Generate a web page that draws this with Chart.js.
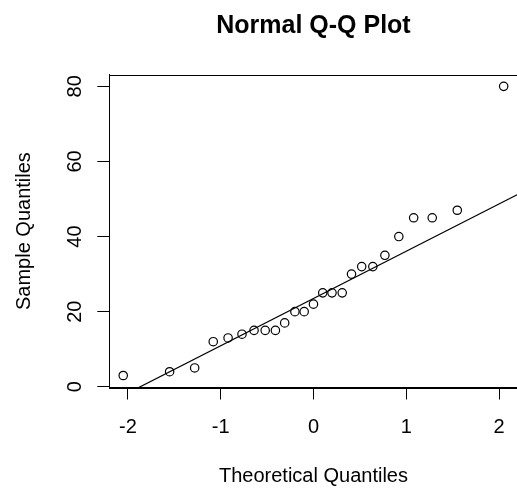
<!DOCTYPE html>
<html>
<head>
<meta charset="utf-8">
<script src="https://cdn.jsdelivr.net/npm/chart.js@4"></script>
<style>
  html, body { margin: 0; padding: 0; background: #fff; overflow: hidden; width: 517px; height: 488px; }
  canvas { display: block; }
</style>
</head>
<body>
<canvas id="c" width="523" height="488" style="width:523px;height:488px"></canvas>
<script>
// Theoretical quantiles (x) and sample quantiles (y)
const theoreticalQ = [-2.05, -1.55, -1.28, -1.08, -0.92, -0.77, -0.64, -0.52, -0.41, -0.31, -0.20, -0.10, 0,
                      0.10, 0.20, 0.31, 0.41, 0.52, 0.64, 0.77, 0.92, 1.08, 1.28, 1.55, 2.05];
const sampleQ = [3, 4, 5, 12, 13, 14, 15, 15, 15, 17, 20, 20, 22,
                 25, 25, 25, 30, 32, 32, 35, 40, 45, 45, 47, 80];
// Reference line (qqline) end points
const lineX = [-2.2, 2.2];
const lineY = [-4.2, 51.2];
// Tick labels
const xTicks = [-2, -1, 0, 1, 2];
const yTicks = [0, 20, 40, 60, 80];

const FONT = '"Liberation Sans", Arial, Helvetica, sans-serif';
Chart.defaults.color = '#000';
Chart.defaults.font.family = FONT;

const framePlugin = {
  id: 'frame',
  afterDatasetsDraw(chart) {
    const a = chart.chartArea, ctx = chart.ctx;
    ctx.save();
    ctx.strokeStyle = '#000';
    ctx.lineWidth = 1;
    ctx.strokeRect(Math.round(a.left) + 0.5, Math.round(a.top) + 0.5,
                   Math.round(a.right - a.left), Math.round(a.bottom - a.top));
    ctx.restore();
  }
};

function noPad(scale) {
  scale.paddingLeft = 0; scale.paddingRight = 0;
  scale.paddingTop = 0; scale.paddingBottom = 0;
}

new Chart(document.getElementById('c'), {
  type: 'scatter',
  data: {
    datasets: [
      {
        type: 'line',
        data: lineX.map((x, i) => ({ x, y: lineY[i] })),
        borderColor: '#000',
        borderWidth: 1.2,
        pointRadius: 0,
        fill: false
      },
      {
        data: theoreticalQ.map((x, i) => ({ x, y: sampleQ[i] })),
        pointStyle: 'circle',
        pointRadius: 4.2,
        pointBorderWidth: 1.2,
        borderColor: '#000',
        backgroundColor: 'rgba(0,0,0,0)',
        pointBackgroundColor: 'rgba(0,0,0,0)',
        pointBorderColor: '#000'
      }
    ]
  },
  options: {
    responsive: false,
    animation: false,
    devicePixelRatio: 1,
    layout: { padding: { left: 0, right: 2, top: 0, bottom: 0 } },
    plugins: {
      legend: { display: false },
      tooltip: { enabled: false },
      title: {
        display: true,
        text: 'Normal Q-Q Plot',
        fullSize: false,
        font: { family: FONT, size: 25, weight: 'bold' },
        color: '#000',
        padding: { top: 11, bottom: 33.7 }
      }
    },
    scales: {
      x: {
        type: 'linear',
        min: -2.2,
        max: 2.2,
        afterBuildTicks(scale) { scale.ticks = xTicks.map(v => ({ value: v })); },
        afterFit(scale) { scale.height = 100.5; noPad(scale); },
        ticks: { font: { family: FONT, size: 20 }, color: '#000', padding: 16, maxRotation: 0, autoSkip: false },
        grid: { display: true, drawOnChartArea: false, drawTicks: true, tickLength: 12, tickColor: '#000', tickWidth: 1 },
        border: { display: true, color: '#000', width: 1 },
        title: { display: true, text: 'Theoretical Quantiles', font: { family: FONT, size: 20 }, color: '#000', padding: { top: 0, bottom: 0 } }
      },
      y: {
        type: 'linear',
        min: -0.2,
        max: 83.1,
        afterBuildTicks(scale) { scale.ticks = yTicks.map(v => ({ value: v })); },
        afterFit(scale) { scale.width = 109.3; noPad(scale); },
        ticks: { font: { family: FONT, size: 20 }, color: '#000', padding: 11, minRotation: 90, maxRotation: 90, crossAlign: 'center', autoSkip: false },
        grid: { display: true, drawOnChartArea: false, drawTicks: true, tickLength: 12, tickColor: '#000', tickWidth: 1 },
        border: { display: true, color: '#000', width: 1 },
        title: { display: true, text: 'Sample Quantiles', font: { family: FONT, size: 20 }, color: '#000', padding: { top: 12, bottom: 0 } }
      }
    }
  },
  plugins: [framePlugin]
});
</script>
</body>
</html>
